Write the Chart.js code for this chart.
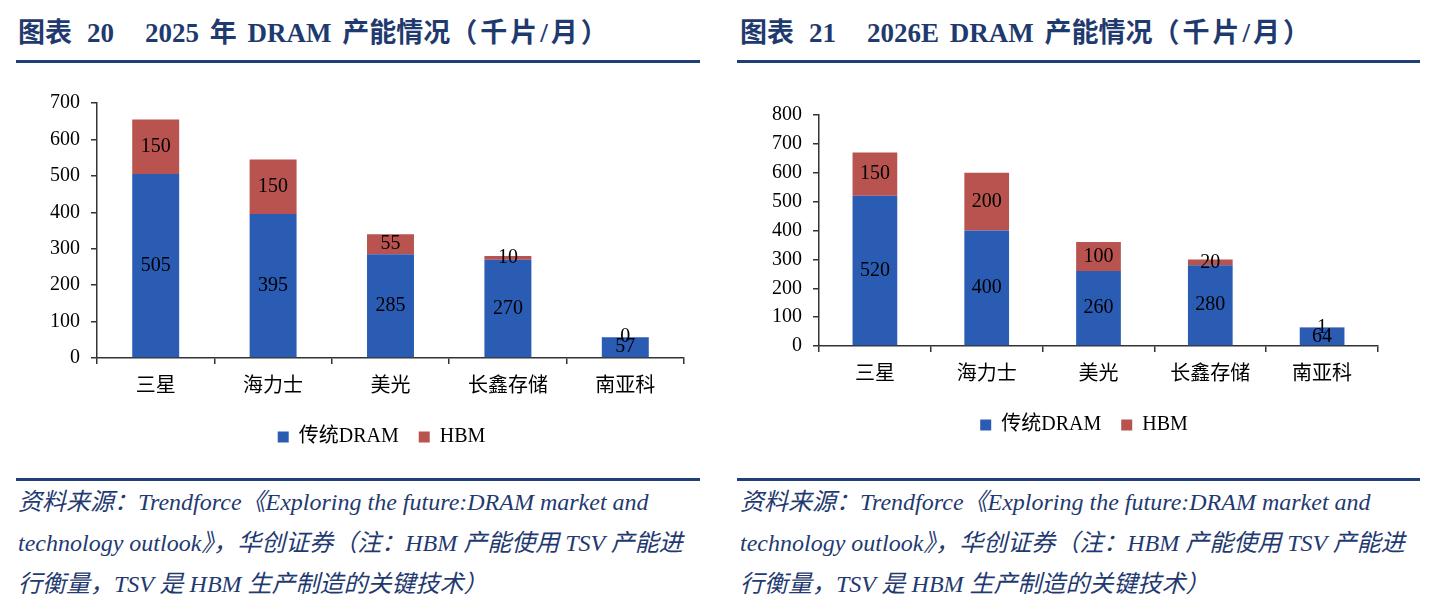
<!DOCTYPE html>
<html>
<head>
<meta charset="utf-8">
<script src="https://cdn.jsdelivr.net/npm/chart.js@4.4.1/dist/chart.umd.min.js"></script>
<style>
  body { margin: 0; background: #fff; width: 1434px; height: 614px; position: relative; overflow: hidden; }
  .title { position: absolute; top: 14px; font: bold 27px "Liberation Serif", "Noto Sans CJK SC", serif; color: #1f3a6e; white-space: pre; line-height: 38px; word-spacing: 4px; }
  .title .p { letter-spacing: 3px; }
  .rule { position: absolute; height: 3px; background: #1f3f77; }
  .src { position: absolute; top: 482px; font: italic 24px "Liberation Serif", "Noto Sans CJK SC", serif; color: #1f3a70; line-height: 41px; white-space: pre; }
  canvas { position: absolute; }
</style>
</head>
<body>
<div class="title" style="left:18px">图表<span style="margin-left:15px">20</span><span style="margin-left:31px">2025 年 DRAM 产能情况</span><span class="p">（千片/月）</span></div>
<div class="rule" style="left:16px;width:684px;top:60px"></div>
<div class="title" style="left:740px">图表<span style="margin-left:15px">21</span><span style="margin-left:31px">2026E DRAM 产能情况</span><span class="p">（千片/月）</span></div>
<div class="rule" style="left:737px;width:683px;top:60px"></div>

<div style="position:absolute;left:40px;top:80px;width:683px;height:377px"><canvas id="c2025"></canvas></div>
<div style="position:absolute;left:760px;top:92px;width:660px;height:353px"><canvas id="c2026"></canvas></div>

<div class="rule" style="left:16px;width:684px;top:478px"></div>
<div class="rule" style="left:737px;width:683px;top:478px"></div>
<div class="src" style="left:18px">资料来源：Trendforce《Exploring the future:DRAM market and
technology outlook》，华创证券（注：HBM 产能使用 TSV 产能进
行衡量，TSV 是 HBM 生产制造的关键技术）</div>
<div class="src" style="left:740px">资料来源：Trendforce《Exploring the future:DRAM market and
technology outlook》，华创证券（注：HBM 产能使用 TSV 产能进
行衡量，TSV 是 HBM 生产制造的关键技术）</div>

<script>
// companies on the x axis
const categories = ['三星', '海力士', '美光', '长鑫存储', '南亚科']

// 2025, thousand wafers per month
const dram2025 = [505, 395, 285, 270, 57]
const hbm2025 = [150, 150, 55, 10, 0]

// 2026E
const dram2026 = [520, 400, 260, 280, 64]
const hbm2026 = [150, 200, 100, 20, 1]

// y axis tops
const yMax2025 = 700
const yMax2026 = 800
const yStep = 100

const serif = '"Liberation Serif", "Noto Sans CJK SC", serif'

// numbers in the middle of each segment
const valueLabels = {
    id: 'valueLabels',
    afterDatasetsDraw(chart) {
        const ctx = chart.ctx
        ctx.save()
        ctx.font = '20px ' + serif
        ctx.fillStyle = '#000'
        ctx.textAlign = 'center'
        ctx.textBaseline = 'middle'
        chart.data.datasets.forEach((ds, i) => {
            chart.getDatasetMeta(i).data.forEach((bar, j) => {
                ctx.fillText(ds.data[j], bar.x, (bar.y + bar.base) / 2)
            })
        })
        ctx.restore()
    }
}

// legend sits a bit right of the canvas middle in the original
const legendShift = {
    id: 'legendShift',
    afterLayout(chart, args, opts) {
        chart.legend.left += opts.dx
        chart.legend.right += opts.dx
    }
}

function makeChart(id, dram, hbm, yMax, padRight, yWidth, dx) {
    const ctx = document.getElementById(id).getContext('2d')
    return new Chart(ctx, {
        type: 'bar',
        data: {
            labels: categories,
            datasets: [{
                label: '传统DRAM',
                data: dram,
                backgroundColor: '#2b5cb4',
            }, {
                label: 'HBM',
                data: hbm,
                backgroundColor: '#b8534f',
            }]
        },
        options: {
            responsive: true,
            maintainAspectRatio: false,
            animation: false,
            categoryPercentage: 1,
            barPercentage: 0.4,
            layout: { padding: { top: 20, left: 0, right: padRight, bottom: 0 } },
            plugins: {
                legend: {
                    position: 'bottom',
                    labels: {
                        boxWidth: 11,
                        boxHeight: 11,
                        padding: 20,
                        color: '#000',
                        font: { size: 20, family: serif }
                    }
                },
                legendShift: { dx: dx },
                tooltip: { enabled: false }
            },
            scales: {
                x: {
                    stacked: true,
                    afterFit(scale) { scale.height = 49 },
                    border: { display: true, color: '#333', width: 1.5 },
                    grid: { drawOnChartArea: false, drawTicks: true, tickLength: 6, color: '#333', lineWidth: 1.5, offset: true },
                    ticks: { color: '#000', padding: 11, font: { size: 20, family: serif } }
                },
                y: {
                    stacked: true,
                    min: 0,
                    max: yMax,
                    afterFit(scale) { scale.width = yWidth },
                    border: { display: true, color: '#333', width: 1.5 },
                    grid: { drawOnChartArea: false, drawTicks: true, tickLength: 6, color: '#333', lineWidth: 1.5 },
                    ticks: { stepSize: yStep, color: '#000', padding: 11, font: { size: 20, family: serif } }
                }
            }
        },
        plugins: [valueLabels, legendShift]
    })
}

makeChart('c2025', dram2025, hbm2025, yMax2025, 39, 57, 19.5)
makeChart('c2026', dram2026, hbm2026, yMax2026, 42, 59, 15)
</script>
</body>
</html>
